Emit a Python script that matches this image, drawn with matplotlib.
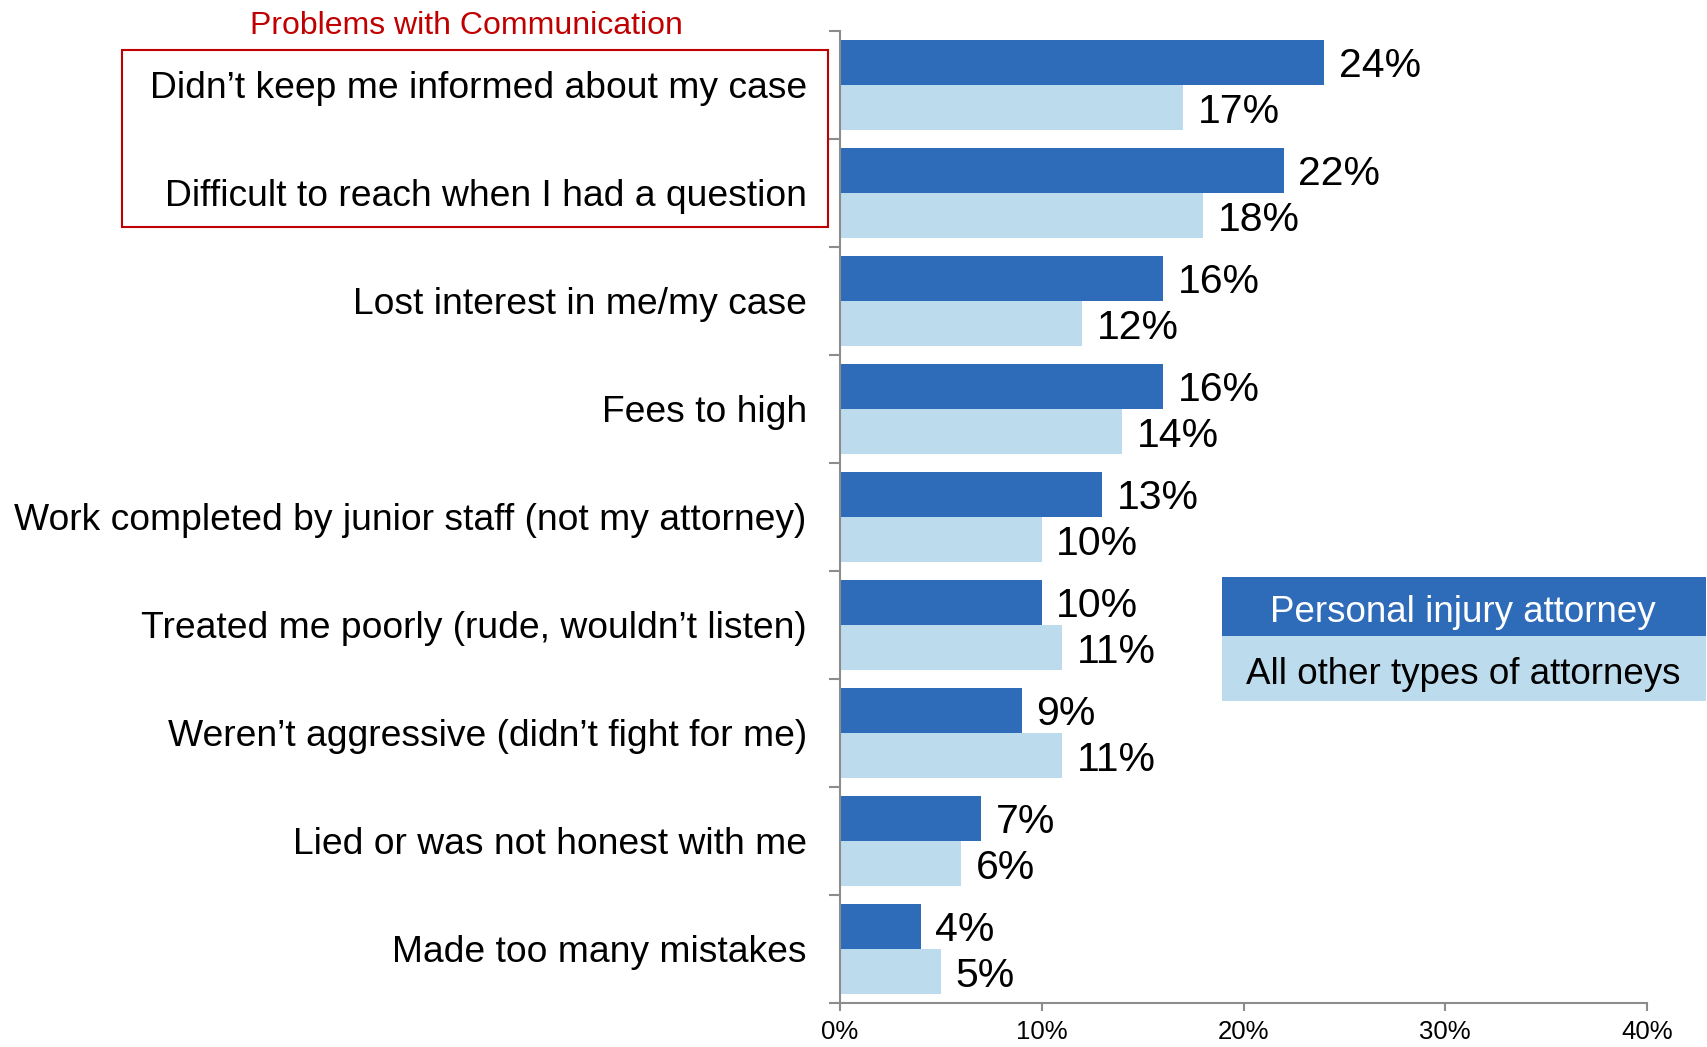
import numpy as np
import matplotlib
matplotlib.use('Agg')
import matplotlib.pyplot as plt
from matplotlib.patches import Rectangle
from matplotlib.ticker import FuncFormatter

plt.rcParams['font.family'] = ['Liberation Sans', 'DejaVu Sans']

# data
categories = [
    'Didn\u2019t keep me informed about my case',
    'Difficult to reach when I had a question',
    'Lost interest in me/my case',
    'Fees to high',
    'Work completed by junior staff (not my attorney)',
    'Treated me poorly (rude, wouldn\u2019t listen)',
    'Weren\u2019t aggressive (didn\u2019t fight for me)',
    'Lied or was not honest with me',
    'Made too many mistakes',
]
personal_injury = [24, 22, 16, 16, 13, 10, 9, 7, 4]
other_types = [17, 18, 12, 14, 10, 11, 11, 6, 5]
series_names = ['Personal injury attorney', 'All other types of attorneys']
x_ticks = [0, 10, 20, 30, 40]

dark = '#2E6BB8'
light = '#BCDBEC'
red = '#C00000'
axis_gray = '#8C8C8C'

W, H = 1708, 1047
fig = plt.figure(figsize=(W / 100, H / 100), dpi=100)
ax = fig.add_axes([840 / W, 1 - 1003 / H, 807 / W, 972 / H])

y = np.arange(len(categories))
bh = 0.42
ax.barh(y - bh / 2, np.array(personal_injury) / 100, height=bh, color=dark)
ax.barh(y + bh / 2, np.array(other_types) / 100, height=bh, color=light)

for yi, v in zip(y - bh / 2, personal_injury):
    ax.annotate(f'{v}%', (v / 100, yi), xytext=(10.5, 0), textcoords='offset points',
                ha='left', va='center_baseline', fontsize=29.5, color='black')
for yi, v in zip(y + bh / 2, other_types):
    ax.annotate(f'{v}%', (v / 100, yi), xytext=(10.5, 0), textcoords='offset points',
                ha='left', va='center_baseline', fontsize=29.5, color='black')

ax.set_xlim(0, 0.4)
ax.set_ylim(len(categories) - 0.5, -0.5)
ax.set_xticks([t / 100 for t in x_ticks])
ax.xaxis.set_major_formatter(FuncFormatter(lambda v, p: f'{v * 100:.0f}%'))
ax.set_yticks(y)
ax.set_yticklabels(categories, fontsize=26.8)
ax.set_yticks(np.arange(-0.5, len(categories)), minor=True)

for s in ['top', 'right']:
    ax.spines[s].set_visible(False)
for s in ['left', 'bottom']:
    ax.spines[s].set_color(axis_gray)
    ax.spines[s].set_linewidth(1.5)

ax.tick_params(axis='y', which='major', length=0, pad=24)
ax.tick_params(axis='y', which='minor', length=8, width=1.5, color=axis_gray)
ax.tick_params(axis='x', length=6, width=1.5, color=axis_gray, labelsize=18.5, pad=6)

# red box around the communication problems
fig.add_artist(Rectangle((122 / W, 1 - 227 / H), 706 / W, 177 / H, transform=fig.transFigure,
                         fill=False, ec=red, lw=1.5))
fig.text(466 / W, 1 - 23 / H, 'Problems with Communication', ha='center',
         va='center_baseline', color=red, fontsize=23)

# legend boxes
fig.add_artist(Rectangle((1222 / W, 1 - 636 / H), 484 / W, 59 / H, transform=fig.transFigure,
                         fc=dark, ec='none'))
fig.add_artist(Rectangle((1222 / W, 1 - 701 / H), 484 / W, 65 / H, transform=fig.transFigure,
                         fc=light, ec='none'))
fig.text(1463 / W, 1 - 608 / H, series_names[0], ha='center', va='center_baseline',
         color='white', fontsize=26.5)
fig.text(1463 / W, 1 - 670 / H, series_names[1], ha='center', va='center_baseline',
         color='black', fontsize=26.5)

fig.savefig('out.png', dpi=100)
